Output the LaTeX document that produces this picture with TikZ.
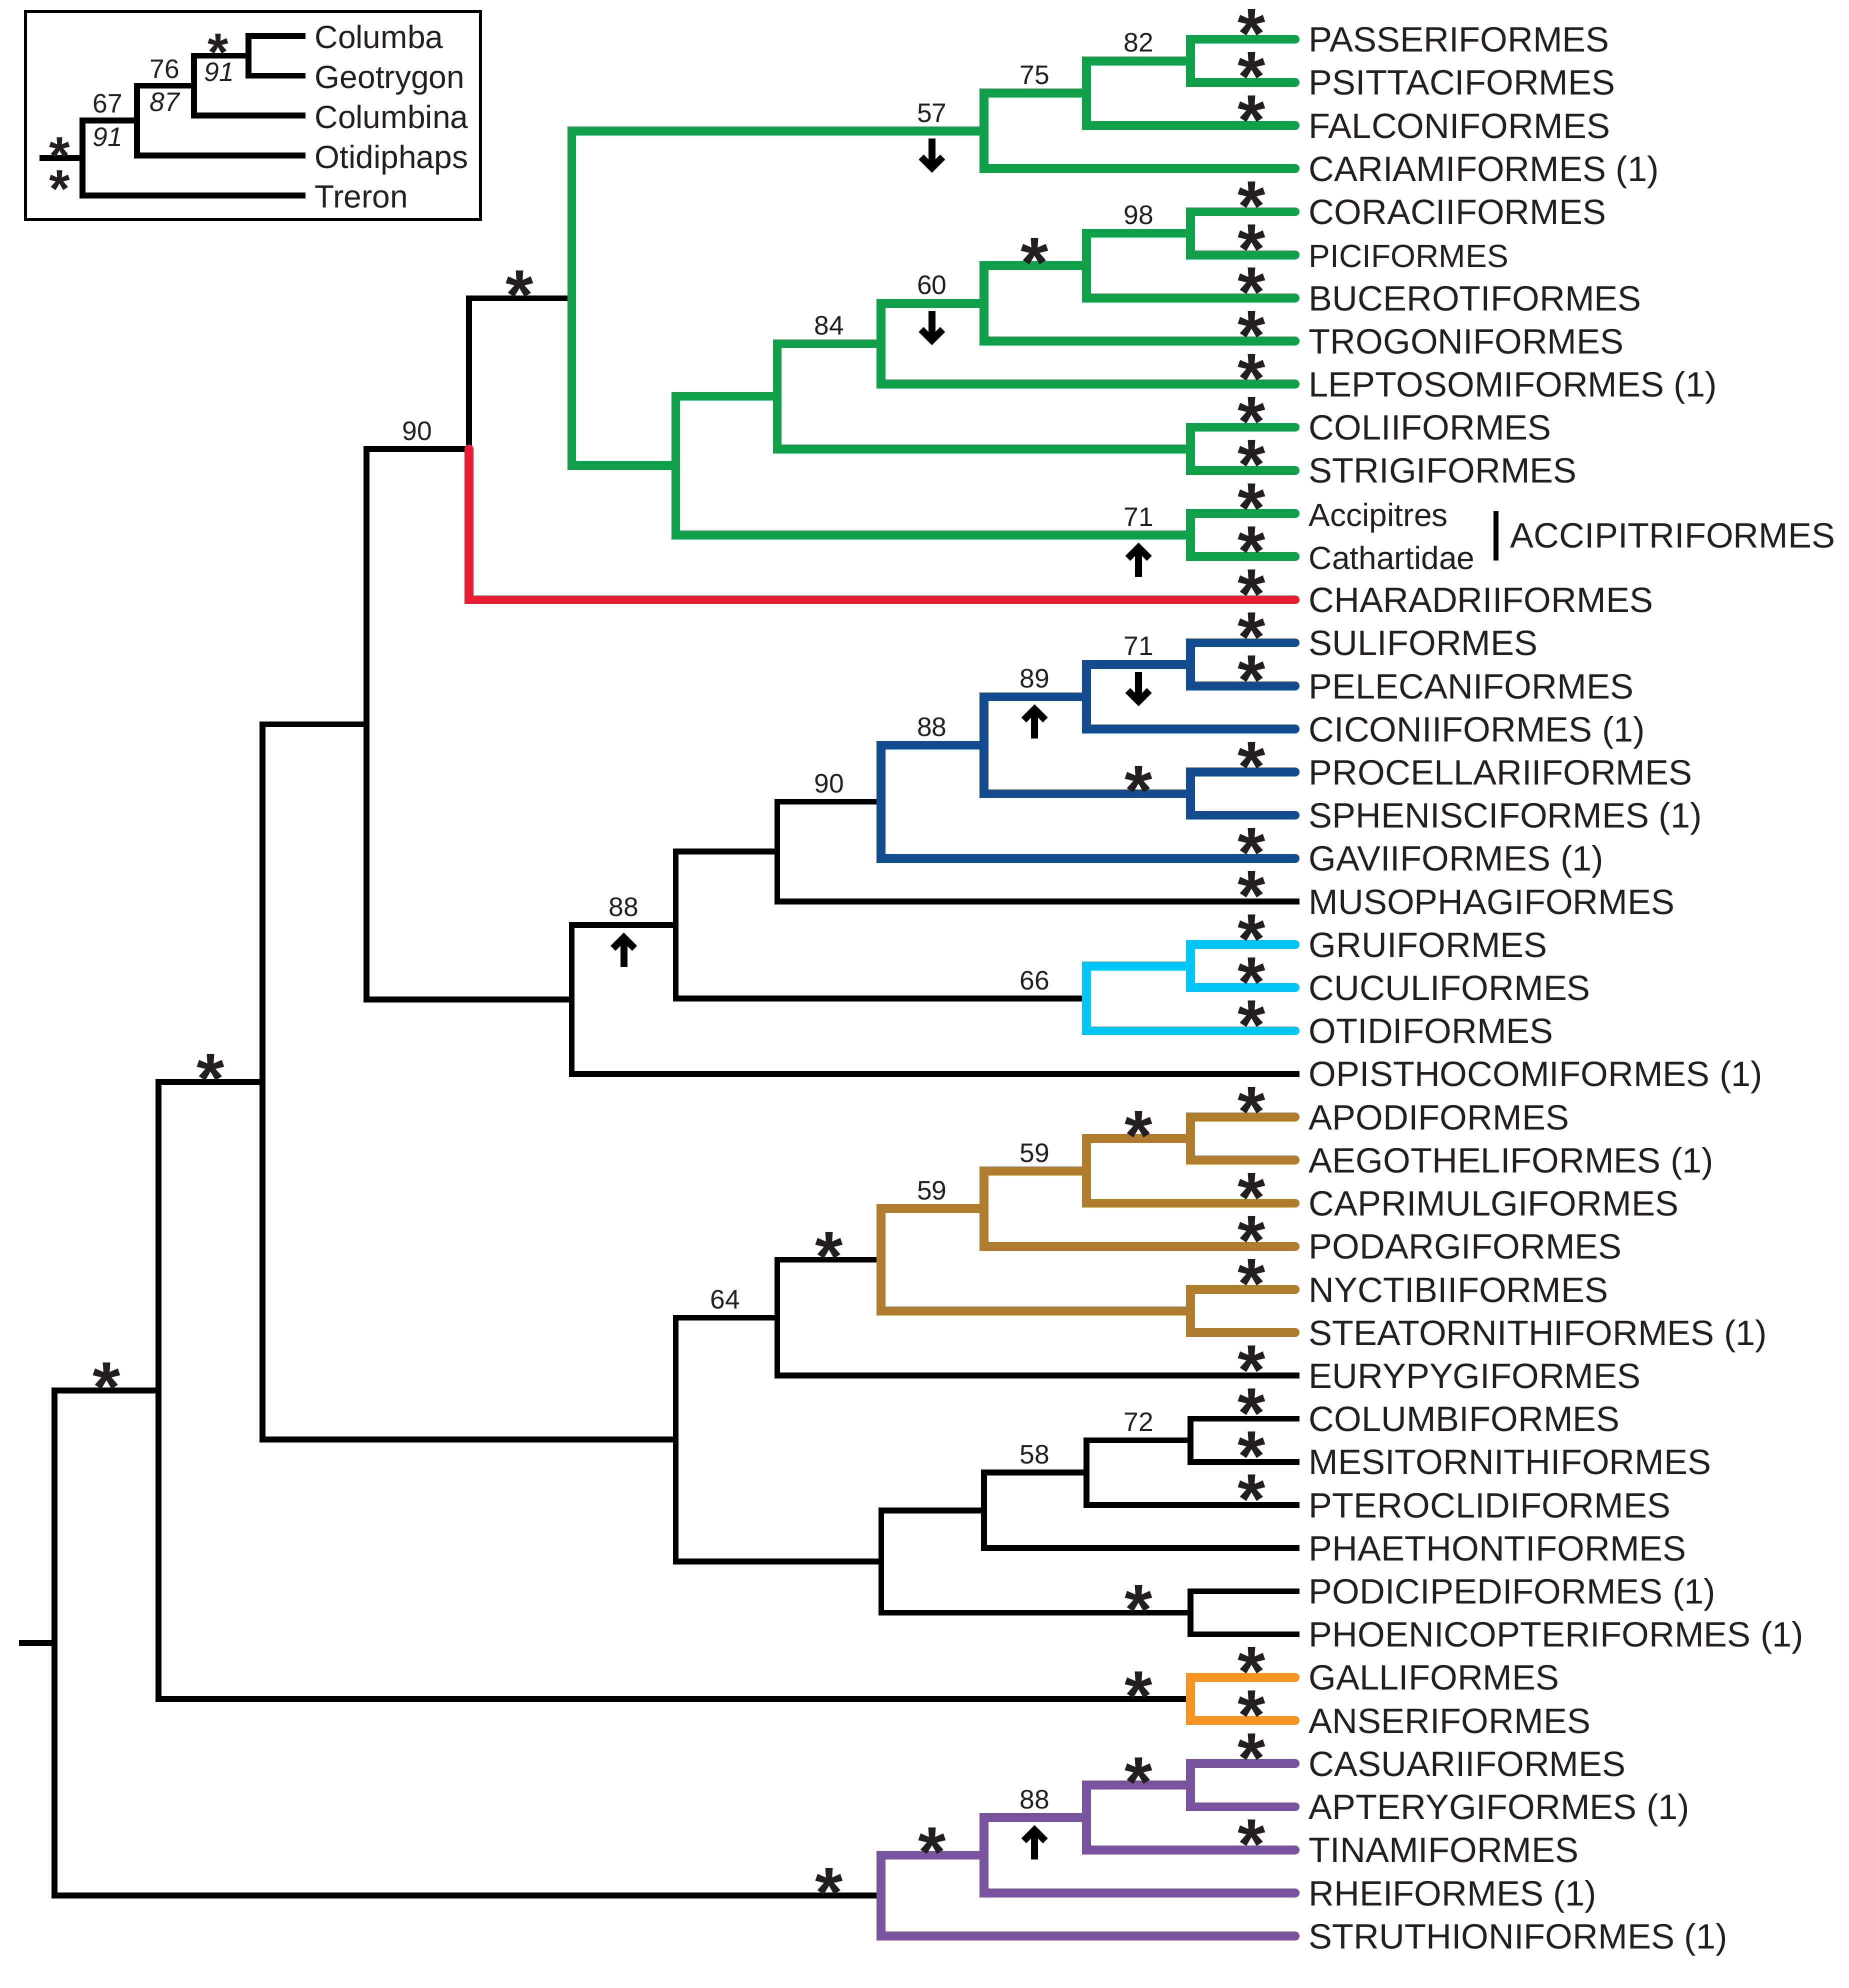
\documentclass[tikz,border=0pt]{standalone}
\usepackage{fontspec}
\setmainfont{Liberation Sans}
\usetikzlibrary{calc,arrows.meta}

\definecolor{cladeGreen}{HTML}{10A04A}
\definecolor{cladeBlue}{HTML}{134C8F}
\definecolor{cladeCyan}{HTML}{00C5F5}
\definecolor{cladeBrown}{HTML}{B07C2E}
\definecolor{cladeOrange}{HTML}{F59422}
\definecolor{cladePurple}{HTML}{7A539E}
\definecolor{cladeRed}{HTML}{E81E34}
\definecolor{labelInk}{HTML}{231F20}

\newcommand\rowy[1]{31+34*#1}
\newcommand\leafX{1025}
\newcommand\leaffont{\fontsize{15.8}{19}\selectfont}
\newcommand\smallname{\fontsize{14.4}{17}\selectfont}
\newcommand\numfont{\fontsize{12}{14}\selectfont}

\tikzset{
  leaf/.style={anchor=west, inner xsep=0.14cm, inner ysep=0pt, text height=11.3pt, text depth=0pt, font=\leaffont, text=labelInk},
  branch/.style={line width=0.092cm, black},
  clade/.style={line width=0.14cm, line cap=round, draw=#1, shorten >=0.07cm},
  bnum/.style={anchor=base, inner sep=0pt, font=\numfont, text=labelInk},
  bstar/.style={anchor=base, inner sep=0pt, font=\fontsize{32}{32}\selectfont\bfseries, text=labelInk},
  istar/.style={anchor=base, inner sep=0pt, font=\fontsize{24}{24}\selectfont\bfseries, text=labelInk},
  flag/.style={line width=0.11cm, -{Straight Barb[length=0.17cm,width=0.34cm]}}
}

\begin{document}
\begin{tikzpicture}[x=0.02cm, y=-0.02cm]
  \useasboundingbox (0,0) rectangle (1458,1568);

  %% orders
  \foreach \lab [count=\i from 0] in {PASSERIFORMES, PSITTACIFORMES, FALCONIFORMES, CARIAMIFORMES (1),
      CORACIIFORMES, {\smallname PICIFORMES}, BUCEROTIFORMES, TROGONIFORMES, LEPTOSOMIFORMES (1),
      COLIIFORMES, STRIGIFORMES, {\smallname Accipitres}, {\smallname Cathartidae}, CHARADRIIFORMES,
      SULIFORMES, PELECANIFORMES, CICONIIFORMES (1), PROCELLARIIFORMES, SPHENISCIFORMES (1),
      GAVIIFORMES (1), MUSOPHAGIFORMES, GRUIFORMES, CUCULIFORMES, OTIDIFORMES, OPISTHOCOMIFORMES (1),
      APODIFORMES, AEGOTHELIFORMES (1), CAPRIMULGIFORMES, PODARGIFORMES, NYCTIBIIFORMES,
      STEATORNITHIFORMES (1), EURYPYGIFORMES, COLUMBIFORMES, MESITORNITHIFORMES, PTEROCLIDIFORMES,
      PHAETHONTIFORMES, PODICIPEDIFORMES (1), PHOENICOPTERIFORMES (1), GALLIFORMES, ANSERIFORMES,
      CASUARIIFORMES, APTERYGIFORMES (1), TINAMIFORMES, RHEIFORMES (1), STRUTHIONIFORMES (1)}{
    \node[leaf] (t\i) at (\leafX,{\rowy{\i}}) {\lab};
  }

  %% internal nodes
  \coordinate (n939a) at (939,{\rowy{0.5}});
  \coordinate (n857a) at (857,{\rowy{1.25}});
  \coordinate (n776a) at (776,{\rowy{2.125}});
  \coordinate (n939b) at (939,{\rowy{4.5}});
  \coordinate (n857b) at (857,{\rowy{5.25}});
  \coordinate (n776b) at (776,{\rowy{6.125}});
  \coordinate (n695b) at (695,{\rowy{7.0625}});
  \coordinate (n939c) at (939,{\rowy{9.5}});
  \coordinate (n613b) at (613,{\rowy{8.28125}});
  \coordinate (n939d) at (939,{\rowy{11.5}});
  \coordinate (n533b) at (533,{\rowy{9.890625}});
  \coordinate (n451) at (451,{\rowy{6.0078}});
  \coordinate (n370) at (370,{\rowy{9.5039}});
  \coordinate (n939e) at (939,{\rowy{14.5}});
  \coordinate (n857e) at (857,{\rowy{15.25}});
  \coordinate (n939f) at (939,{\rowy{17.5}});
  \coordinate (n776e) at (776,{\rowy{16.375}});
  \coordinate (n695e) at (695,{\rowy{17.6875}});
  \coordinate (n613e) at (613,{\rowy{18.84375}});
  \coordinate (n939g) at (939,{\rowy{21.5}});
  \coordinate (n857g) at (857,{\rowy{22.25}});
  \coordinate (n533e) at (533,{\rowy{20.546875}});
  \coordinate (n451e) at (451,{\rowy{22.2734}});
  \coordinate (n289) at (289,{\rowy{15.8887}});
  \coordinate (n939h) at (939,{\rowy{25.5}});
  \coordinate (n857h) at (857,{\rowy{26.25}});
  \coordinate (n776h) at (776,{\rowy{27.125}});
  \coordinate (n939i) at (939,{\rowy{29.5}});
  \coordinate (n695h) at (695,{\rowy{28.3125}});
  \coordinate (n613h) at (613,{\rowy{29.65625}});
  \coordinate (n939j) at (939,{\rowy{32.5}});
  \coordinate (n857j) at (857,{\rowy{33.25}});
  \coordinate (n776j) at (776,{\rowy{34.125}});
  \coordinate (n939k) at (939,{\rowy{36.5}});
  \coordinate (n695j) at (695,{\rowy{35.3125}});
  \coordinate (n530) at (533,{\rowy{32.484}});
  \coordinate (n207) at (207,{\rowy{24.186}});
  \coordinate (n939l) at (939,{\rowy{38.5}});
  \coordinate (n125) at (125,{\rowy{31.343}});
  \coordinate (n939m) at (939,{\rowy{40.5}});
  \coordinate (n857m) at (857,{\rowy{41.25}});
  \coordinate (n776m) at (776,{\rowy{42.125}});
  \coordinate (n695m) at (695,{\rowy{43.0625}});
  \coordinate (n43) at (43,{\rowy{37.203}});
  \coordinate (root) at (15,{\rowy{37.203}});

  %% black branches
  \draw[branch] (root) -- (n43);
  \foreach \p/\c in {n370/n451, n289/n370, n289/n451e, n613e/n695e, n613e/t20, n533e/n613e, n533e/n857g,
      n451e/n533e, n451e/t24, n613h/n695h, n613h/t31, n939j/t32, n939j/t33, n857j/n939j, n857j/t34,
      n776j/n857j, n776j/t35, n939k/t36, n939k/t37, n695j/n776j, n695j/n939k, n530/n613h, n530/n695j,
      n207/n289, n207/n530, n125/n207, n125/n939l, n43/n125, n43/n695m}
    \draw[branch] (\p) |- (\c);

  %% coloured clades
  \foreach \p/\c in {n939a/t0, n939a/t1, n857a/n939a, n857a/t2, n776a/n857a, n776a/t3,
      n939b/t4, n939b/t5, n857b/n939b, n857b/t6, n776b/n857b, n776b/t7, n695b/n776b, n695b/t8,
      n939c/t9, n939c/t10, n613b/n695b, n613b/n939c, n939d/t11, n939d/t12,
      n533b/n613b, n533b/n939d, n451/n776a, n451/n533b}
    \draw[clade=cladeGreen] (\p) |- (\c);
  \draw[clade=cladeRed] (n370) |- (t13);
  \foreach \p/\c in {n939e/t14, n939e/t15, n857e/n939e, n857e/t16, n939f/t17, n939f/t18,
      n776e/n857e, n776e/n939f, n695e/n776e, n695e/t19}
    \draw[clade=cladeBlue] (\p) |- (\c);
  \foreach \p/\c in {n939g/t21, n939g/t22, n857g/n939g, n857g/t23}
    \draw[clade=cladeCyan] (\p) |- (\c);
  \foreach \p/\c in {n939h/t25, n939h/t26, n857h/n939h, n857h/t27, n776h/n857h, n776h/t28,
      n939i/t29, n939i/t30, n695h/n776h, n695h/n939i}
    \draw[clade=cladeBrown] (\p) |- (\c);
  \foreach \p/\c in {n939l/t38, n939l/t39}
    \draw[clade=cladeOrange] (\p) |- (\c);
  \foreach \p/\c in {n939m/t40, n939m/t41, n857m/n939m, n857m/t42, n776m/n857m, n776m/t43,
      n695m/n776m, n695m/t44}
    \draw[clade=cladePurple] (\p) |- (\c);

  %% support values
  \foreach \n/\v in {n776a/57, n857a/75, n939a/82, n695b/84, n776b/60, n939b/98, n939d/71, n370/90,
      n533e/88, n695e/90, n776e/88, n857e/89, n939e/71, n857g/66, n613h/64, n776h/59, n857h/59,
      n857j/58, n939j/72, n857m/88}
    \node[bnum] (v-\n) at ($(\n)+(-41,-7)$) {\v};
  \foreach \n in {n451, n207, n125, n857b, n939f, n695h, n939h, n939k, n939l, n695m, n776m, n939m}
    \node[bstar] (s-\n) at ($(\n)+(-41,17)$) {*};
  \foreach \i in {0,1,2,4,5,6,7,8,9,10,11,12,13,14,15,17,19,20,21,22,23,25,27,28,29,31,32,33,34,38,39,40,42}
    \node[bstar] (s\i) at ($(t\i.west)+(-38,15)$) {*};

  %% shifts
  \foreach \n in {n776a, n776b, n939e}
    \draw[flag] ($(\n)+(-41,6)$) -- ++(0,27);
  \foreach \n in {n939d, n857e, n533e, n857m}
    \draw[flag] ($(\n)+(-41,33)$) -- ++(0,-27);

  %% accipitriformes
  \node[leaf] (accip) at ($(t11.west)!0.5!(t12.west)+(159,0)$) {ACCIPITRIFORMES};
  \draw[line width=0.08cm] ($(accip.west)+(-4,-19)$) -- ($(accip.west)+(-4,20)$);

  %% columbiformes inset
  \draw[line width=0.05cm] (20,9) rectangle (379,173);
  \foreach \lab [count=\k from 0] in {Columba, Geotrygon, Columbina, Otidiphaps, Treron}{
    \node[leaf, font=\smallname] (i\k) at (241,{28.3+31.45*\k}) {\lab};
  }
  \coordinate (c1) at (196,44.0);
  \coordinate (c2) at (153,67.6);
  \coordinate (c3) at (108,95.1);
  \coordinate (c4) at (65,124.6);
  \coordinate (c0) at (31,124.6);
  \draw[branch] (c0) -- (c4);
  \foreach \p/\c in {c1/i0, c1/i1, c2/c1, c2/i2, c3/c2, c3/i3, c4/c3, c4/i4}
    \draw[branch] (\p) |- (\c);
  \foreach \n/\v in {c2/76, c3/67}
    \node[bnum] (u-\n) at ($(\n)+(-23,-6)$) {\v};
  \foreach \n/\v in {c1/91, c2/87, c3/91}
    \node[bnum, anchor=north, font=\numfont\itshape] (w-\n) at ($(\n)+(-23,5)$) {\v};
  \node[istar] (s-c1) at ($(c1)+(-24,12)$) {*};
  \node[istar] (s-c4a) at ($(c4)+(-18,13)$) {*};
  \node[istar] (s-c4b) at ($(c4)+(-18,39)$) {*};

\end{tikzpicture}
\end{document}
